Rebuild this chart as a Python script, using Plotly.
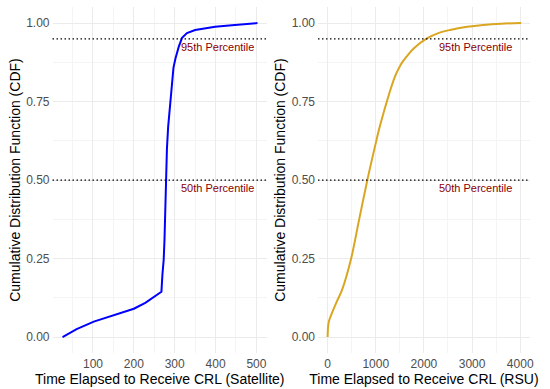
import plotly.graph_objects as go

# Satellite CDF
sat_time = [25.5, 60, 102, 163, 200, 228, 250, 267.5, 270, 273, 275, 278.5, 281, 284, 287, 290, 293, 297, 302, 310, 318, 330, 350, 375, 399, 440, 480, 502.5]
sat_cdf = [0.0, 0.025, 0.049, 0.073, 0.09, 0.109, 0.127, 0.144, 0.2, 0.245, 0.309, 0.5, 0.6, 0.67, 0.715, 0.77, 0.82, 0.858, 0.888, 0.925, 0.953, 0.968, 0.978, 0.984, 0.988, 0.993, 0.997, 1.0]

# RSU CDF
rsu_time = [0, 8, 20, 35, 100, 206, 300, 481, 653, 825, 950, 1031, 1100, 1271, 1400, 1512, 1650, 1787, 2062, 2300, 2543, 2900, 3230, 3600, 4020]
rsu_cdf = [0.0, 0.03, 0.045, 0.054, 0.08, 0.118, 0.15, 0.245, 0.373, 0.5, 0.585, 0.638, 0.68, 0.771, 0.83, 0.866, 0.895, 0.919, 0.951, 0.968, 0.978, 0.988, 0.994, 0.998, 1.0]

percentile_levels = [0.95, 0.50]
percentile_labels = ["95th Percentile", "50th Percentile"]
label_x_sat = 405
label_x_rsu = 3075

y_ticks = [0, 0.25, 0.5, 0.75, 1.0]
y_ticktext = ["0.00", "0.25", "0.50", "0.75", "1.00"]
sat_xticks = [100, 200, 300, 400, 500]
rsu_xticks = [0, 1000, 2000, 3000, 4000]

FONT = "Liberation Sans, Arial, sans-serif"
TICKCOL = "#4D4D4D"
GRID = "#EBEBEB"
MINOR = "#F4F4F4"

fig = go.Figure()
fig.add_trace(go.Scatter(x=sat_time, y=sat_cdf, mode="lines",
                         line=dict(color="#0000FF", width=2), xaxis="x", yaxis="y",
                         showlegend=False, hoverinfo="skip"))
fig.add_trace(go.Scatter(x=rsu_time, y=rsu_cdf, mode="lines", line_shape="spline",
                         line=dict(color="#DAA520", width=2), xaxis="x2", yaxis="y2",
                         showlegend=False, hoverinfo="skip"))

yax = dict(range=[-0.05, 1.05], domain=[0.0933, 0.981], tickvals=y_ticks, ticktext=y_ticktext,
           showgrid=True, gridcolor=GRID, gridwidth=1, zeroline=False, showline=False,
           ticks="", tickfont=dict(family=FONT, size=12, color=TICKCOL),
           ticklabelstandoff=2,
           minor=dict(tickvals=[0.125, 0.375, 0.625, 0.875], showgrid=True, gridcolor=MINOR, gridwidth=1),
           title=dict(text="Cumulative Distribution Function (CDF)", font=dict(family=FONT, size=14, color="black"), standoff=2))

fig.update_layout(
    width=550, height=389,
    margin=dict(l=0, r=0, t=0, b=0),
    paper_bgcolor="white", plot_bgcolor="white",
    xaxis=dict(range=[1, 526], domain=[0.0962, 0.4891], anchor="y", tickvals=sat_xticks,
               showgrid=True, gridcolor=GRID, gridwidth=1, zeroline=False, showline=False, ticks="",
               tickfont=dict(family=FONT, size=12, color=TICKCOL), ticklabelstandoff=2,
               minor=dict(tickvals=[50, 150, 250, 350, 450], showgrid=True, gridcolor=MINOR, gridwidth=1),
               title=dict(text="Time Elapsed to Receive CRL (Satellite)", font=dict(family=FONT, size=14, color="black"), standoff=2)),
    xaxis2=dict(range=[-200, 4200], domain=[0.5824, 0.9704], anchor="y2", tickvals=rsu_xticks,
                showgrid=True, gridcolor=GRID, gridwidth=1, zeroline=False, showline=False, ticks="",
                tickfont=dict(family=FONT, size=12, color=TICKCOL), ticklabelstandoff=2,
                minor=dict(tickvals=[500, 1500, 2500, 3500], showgrid=True, gridcolor=MINOR, gridwidth=1),
                title=dict(text="Time Elapsed to Receive CRL (RSU)", font=dict(family=FONT, size=14, color="black"), standoff=2)),
    yaxis=dict(yax, anchor="x"),
    yaxis2=dict(yax, anchor="x2"),
)

for xr, yr, lx in [("x", "y", label_x_sat), ("x2", "y2", label_x_rsu)]:
    for lvl, lab in zip(percentile_levels, percentile_labels):
        fig.add_shape(type="line", xref=f"{xr} domain", yref=yr, x0=0, x1=1, y0=lvl, y1=lvl,
                      line=dict(color="black", width=1.2, dash="1.5px,2.5px"), layer="above")
        fig.add_annotation(x=lx, y=lvl, xref=xr, yref=yr, text=lab, showarrow=False,
                           yshift=-8, font=dict(family=FONT, size=11, color="#8B0000"))

fig.write_html("out.html", config={"displayModeBar": False, "staticPlot": True},
               post_script="document.body.style.margin='0';document.body.style.overflow='hidden';")
